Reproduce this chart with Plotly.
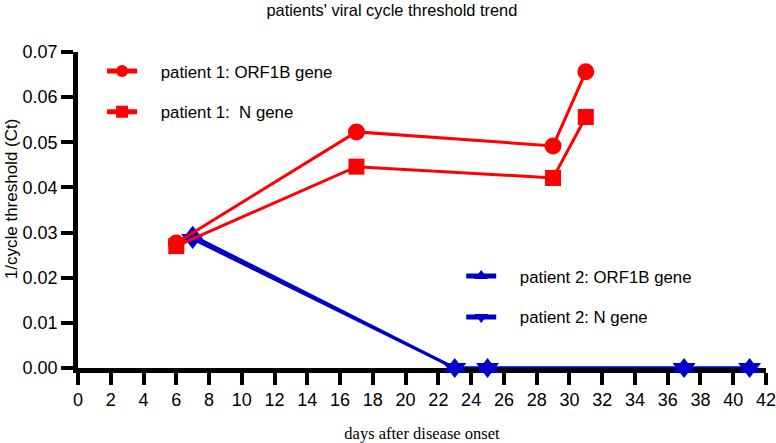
import plotly.graph_objects as go

# ---- data ----
p1_days = [6, 17, 29, 31]
p1_orf1b = [0.0277, 0.0523, 0.0492, 0.0656]
p1_n = [0.0270, 0.0446, 0.0421, 0.0556]

p2_days = [7, 23, 25, 37, 41]
p2_orf1b = [0.0293, 0, 0, 0, 0]
p2_n = [0.0286, 0, 0, 0, 0]

x_ticks = list(range(0, 43, 2))
y_ticks = [0.00, 0.01, 0.02, 0.03, 0.04, 0.05, 0.06, 0.07]

names = ["patient 1: ORF1B gene", "patient 1:\u00a0 N gene", "patient 2: ORF1B gene", "patient 2: N gene"]

RED = "#FF0000"
BLUE = "#0000CC"
SANS = "Arial, Liberation Sans, sans-serif"
SERIF = "Times New Roman, Liberation Serif, serif"
PAD = "\u00a0" * 4

fig = go.Figure()

fig.add_trace(go.Scatter(
    x=p2_days, y=p2_orf1b, name=PAD + names[2], mode="lines+markers",
    line=dict(color=BLUE, width=3), marker=dict(symbol="triangle-up", size=20, color=BLUE),
    cliponaxis=False, legend="legend2", legendgroup="c"))
fig.add_trace(go.Scatter(
    x=p2_days, y=p2_n, name=PAD + names[3], mode="lines+markers",
    line=dict(color=BLUE, width=3), marker=dict(symbol="triangle-down", size=20, color=BLUE),
    cliponaxis=False, legend="legend2", legendgroup="d"))
fig.add_trace(go.Scatter(
    x=p1_days, y=p1_orf1b, name=PAD + names[0], mode="lines+markers",
    line=dict(color=RED, width=3), marker=dict(symbol="circle", size=17, color=RED),
    cliponaxis=False, legend="legend", legendgroup="a"))
fig.add_trace(go.Scatter(
    x=p1_days, y=p1_n, name=PAD + names[1], mode="lines+markers",
    line=dict(color=RED, width=3), marker=dict(symbol="square", size=16, color=RED),
    cliponaxis=False, legend="legend", legendgroup="b"))

leg_common = dict(font=dict(family=SANS, size=16.8, color="black"), bgcolor="rgba(0,0,0,0)",
                  traceorder="grouped", tracegroupgap=16, itemsizing="constant", itemwidth=30,
                  xanchor="left", yanchor="top")

fig.update_layout(
    width=776, height=443,
    margin=dict(l=78, r=10, t=52, b=75),
    paper_bgcolor="white", plot_bgcolor="white",
    showlegend=True,
    title=dict(text="patients' viral cycle threshold trend", font=dict(family=SANS, size=16.4, color="black"),
               xref="container", x=0.505, xanchor="center", yref="container", y=0.99, yanchor="top"),
    legend=dict(x=0.035, y=0.995, **leg_common),
    legend2=dict(x=0.557, y=0.346, **leg_common),
    xaxis=dict(range=[0, 42], tickmode="array", tickvals=x_ticks, ticktext=[str(v) for v in x_ticks],
               showgrid=False, zeroline=False, showline=True, linecolor="black", linewidth=4.5,
               ticks="outside", ticklen=12, tickwidth=4, tickcolor="black", automargin=False,
               ticklabeloverflow="allow",
               tickfont=dict(family=SANS, size=18, color="black"), layer="below traces",
               title=dict(text="days after disease onset", standoff=21,
                          font=dict(family=SERIF, size=16.5, color="black"))),
    yaxis=dict(range=[0, 0.07], tickmode="array", tickvals=y_ticks, ticktext=[f"{v:.2f}" for v in y_ticks],
               showgrid=False, zeroline=False, showline=True, linecolor="black", linewidth=4.5,
               ticks="outside", ticklen=12, tickwidth=4, tickcolor="black", automargin=False,
               tickfont=dict(family=SANS, size=18, color="black"), layer="below traces"),
    annotations=[dict(text="1/cycle threshold (Ct)", textangle=-90, showarrow=False,
                      xref="paper", yref="paper", x=-0.0975, y=0.537,
                      xanchor="center", yanchor="middle",
                      font=dict(family=SANS, size=17, color="black"))],
)

# remove the browser's default 8px body margin so the figure sits at the page origin
fig.write_html("out.html", config={"displayModeBar": False},
               post_script="document.body.style.margin='0';")
